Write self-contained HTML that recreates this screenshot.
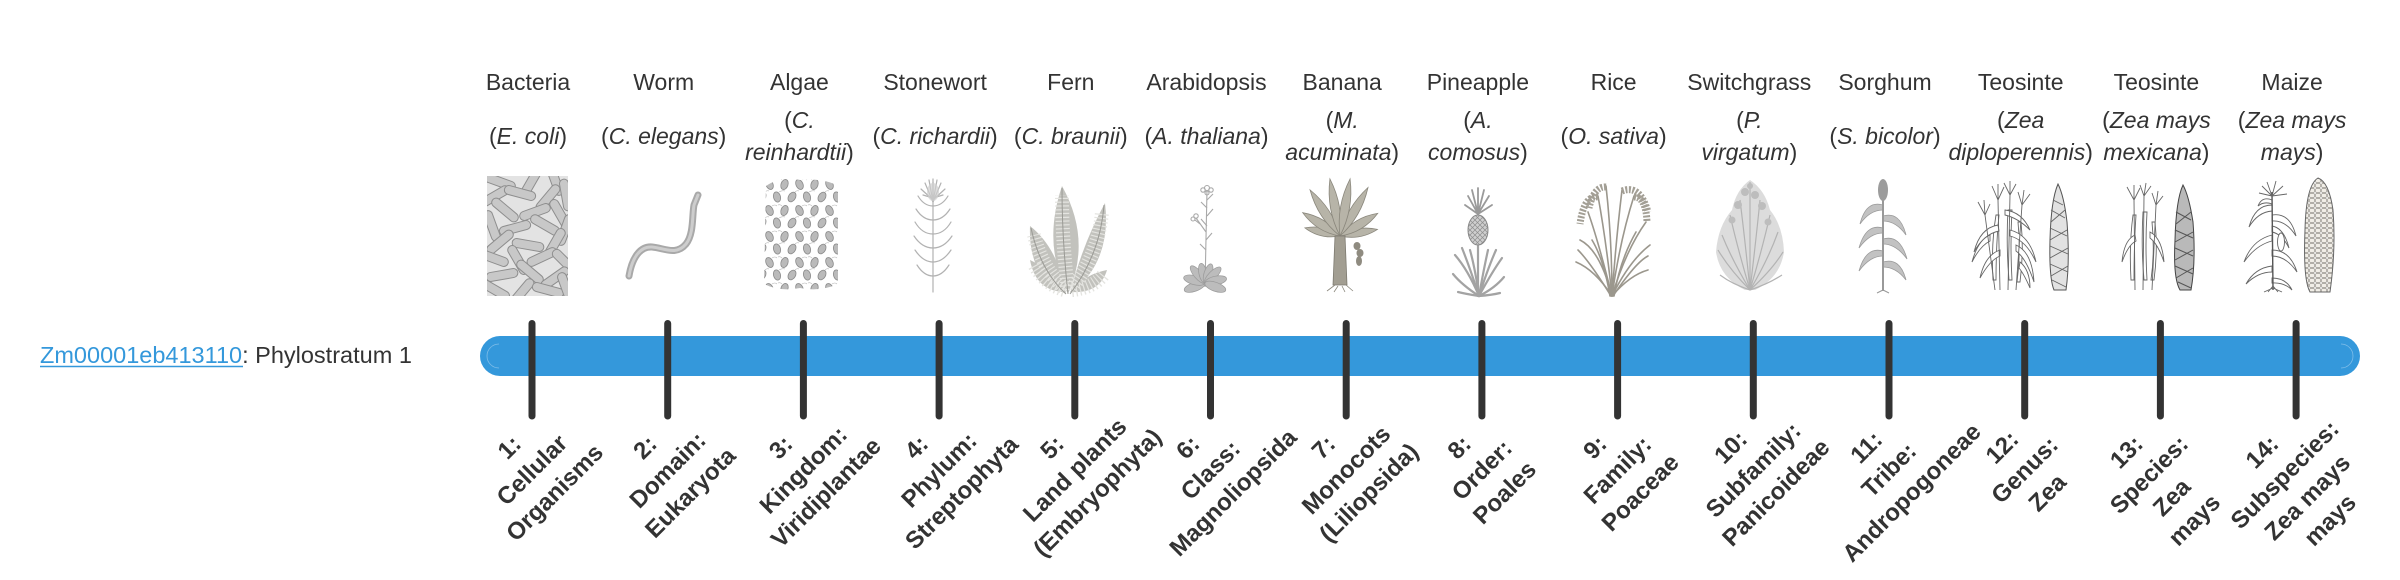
<!DOCTYPE html>
<html><head><meta charset="utf-8"><style>
body{margin:0;background:#fff;}
svg{display:block}
.h{font-family:"Liberation Sans",sans-serif;font-size:23px;fill:#333;text-anchor:middle}
.l{font-family:"Liberation Sans",sans-serif;font-size:24px;font-weight:bold;fill:#333;text-anchor:middle}
.i{font-style:italic}
</style></head><body>
<svg width="2400" height="580" viewBox="0 0 2400 580" xmlns="http://www.w3.org/2000/svg">
<defs>
<rect id="rod" x="-16" y="-4.5" width="32" height="9" rx="4.5"/>
<clipPath id="cb"><rect x="487" y="176" width="81" height="120"/></clipPath>
<pattern id="pa" x="762" y="178" width="30" height="26" patternUnits="userSpaceOnUse">
<g fill="#bababa" stroke="#8a8a8a" stroke-width="0.8">
<ellipse cx="7.5" cy="6.5" rx="3.5" ry="5.2" transform="rotate(-25 7.5 6.5)"/>
<ellipse cx="22.5" cy="6.5" rx="3.5" ry="5.2" transform="rotate(20 22.5 6.5)"/>
<ellipse cx="0" cy="19" rx="3.5" ry="5.2" transform="rotate(30 0 19)"/>
<ellipse cx="15" cy="19" rx="3.5" ry="5.2" transform="rotate(-15 15 19)"/>
<ellipse cx="30" cy="19" rx="3.5" ry="5.2" transform="rotate(30 30 19)"/>
</g>
<g stroke="#b5b5b5" stroke-width="0.6" fill="none">
<path d="M10 2 q3 -2 5 0"/><path d="M20 2 q-2 -2 -4 -1"/><path d="M17 14 q3 -2 6 -1"/><path d="M3 14 q2 -2 4 -1"/>
</g>
</pattern>
<pattern id="kern" x="2303" y="178" width="6" height="5" patternUnits="userSpaceOnUse">
<rect x="0.5" y="0.5" width="5" height="4" rx="1.2" fill="#f1eee7" stroke="#9a968e" stroke-width="0.7"/>
</pattern>
<pattern id="ph" x="0" y="0" width="5" height="5" patternUnits="userSpaceOnUse">
<rect width="5" height="5" fill="#cfcfcf"/>
<path d="M0 0 L5 5 M5 0 L0 5" stroke="#8e8e8e" stroke-width="0.7"/>
</pattern>
</defs>

<!-- left label -->
<text x="40" y="363" font-family="Liberation Sans, sans-serif" font-size="23.5" fill="#333"><tspan fill="#3498db">Zm00001eb413110</tspan>: Phylostratum 1</text>
<line x1="40" y1="366.5" x2="243" y2="366.5" stroke="#3498db" stroke-width="1.5"/>

<!-- headers -->
<g class="h">
<text x="528" y="90">Bacteria</text>
<text x="663.7" y="90">Worm</text>
<text x="799.4" y="90">Algae</text>
<text x="935.1" y="90">Stonewort</text>
<text x="1070.8" y="90">Fern</text>
<text x="1206.5" y="90">Arabidopsis</text>
<text x="1342.2" y="90">Banana</text>
<text x="1477.9" y="90">Pineapple</text>
<text x="1613.6" y="90">Rice</text>
<text x="1749.3" y="90">Switchgrass</text>
<text x="1885" y="90">Sorghum</text>
<text x="2020.7" y="90">Teosinte</text>
<text x="2156.4" y="90">Teosinte</text>
<text x="2292.1" y="90">Maize</text>
</g>

<!-- species -->
<g class="h">
<text x="528" y="144">(<tspan class="i">E. coli</tspan>)</text>
<text x="663.7" y="144">(<tspan class="i">C. elegans</tspan>)</text>
<text x="799.4" y="128">(<tspan class="i">C.</tspan></text>
<text x="799.4" y="160"><tspan class="i">reinhardtii</tspan>)</text>
<text x="935.1" y="144">(<tspan class="i">C. richardii</tspan>)</text>
<text x="1070.8" y="144">(<tspan class="i">C. braunii</tspan>)</text>
<text x="1206.5" y="144">(<tspan class="i">A. thaliana</tspan>)</text>
<text x="1342.2" y="128">(<tspan class="i">M.</tspan></text>
<text x="1342.2" y="160"><tspan class="i">acuminata</tspan>)</text>
<text x="1477.9" y="128">(<tspan class="i">A.</tspan></text>
<text x="1477.9" y="160"><tspan class="i">comosus</tspan>)</text>
<text x="1613.6" y="144">(<tspan class="i">O. sativa</tspan>)</text>
<text x="1749.3" y="128">(<tspan class="i">P.</tspan></text>
<text x="1749.3" y="160"><tspan class="i">virgatum</tspan>)</text>
<text x="1885" y="144">(<tspan class="i">S. bicolor</tspan>)</text>
<text x="2020.7" y="128">(<tspan class="i">Zea</tspan></text>
<text x="2020.7" y="160"><tspan class="i">diploperennis</tspan>)</text>
<text x="2156.4" y="128">(<tspan class="i">Zea mays</tspan></text>
<text x="2156.4" y="160"><tspan class="i">mexicana</tspan>)</text>
<text x="2292.1" y="128">(<tspan class="i">Zea mays</tspan></text>
<text x="2292.1" y="160"><tspan class="i">mays</tspan>)</text>
</g>

<!-- Bacteria -->
<g clip-path="url(#cb)">
<rect x="487" y="176" width="81" height="120" fill="#e3e3e3"/>
<g fill="#c8c8c8" stroke="#8e8e8e" stroke-width="1">
<use href="#rod" transform="translate(500 182) rotate(20)"/>
<use href="#rod" transform="translate(530 184) rotate(-60)"/>
<use href="#rod" transform="translate(555 180) rotate(70)"/>
<use href="#rod" transform="translate(495 196) rotate(-30)"/>
<use href="#rod" transform="translate(520 193) rotate(15)"/>
<use href="#rod" transform="translate(548 198) rotate(-50)"/>
<use href="#rod" transform="translate(566 195) rotate(80)"/>
<use href="#rod" transform="translate(505 210) rotate(40)"/>
<use href="#rod" transform="translate(535 212) rotate(-20)"/>
<use href="#rod" transform="translate(560 214) rotate(60)"/>
<use href="#rod" transform="translate(492 226) rotate(70)"/>
<use href="#rod" transform="translate(515 228) rotate(-15)"/>
<use href="#rod" transform="translate(545 225) rotate(30)"/>
<use href="#rod" transform="translate(565 230) rotate(-70)"/>
<use href="#rod" transform="translate(500 242) rotate(-40)"/>
<use href="#rod" transform="translate(528 245) rotate(10)"/>
<use href="#rod" transform="translate(555 243) rotate(-60)"/>
<use href="#rod" transform="translate(493 258) rotate(20)"/>
<use href="#rod" transform="translate(518 260) rotate(60)"/>
<use href="#rod" transform="translate(542 257) rotate(-25)"/>
<use href="#rod" transform="translate(565 262) rotate(45)"/>
<use href="#rod" transform="translate(502 275) rotate(-10)"/>
<use href="#rod" transform="translate(530 272) rotate(40)"/>
<use href="#rod" transform="translate(555 278) rotate(-35)"/>
<use href="#rod" transform="translate(495 290) rotate(30)"/>
<use href="#rod" transform="translate(522 292) rotate(-50)"/>
<use href="#rod" transform="translate(548 290) rotate(15)"/>
<use href="#rod" transform="translate(566 288) rotate(70)"/>
</g>
</g>

<!-- Worm -->
<path d="M629 276 C632 258 640 246 652 247 C664 248 676 256 686 244 C694 234 692 215 694 205 L698 195" fill="none" stroke="#a9a9a9" stroke-width="7" stroke-linecap="round"/>
<path d="M629 276 C632 258 640 246 652 247 C664 248 676 256 686 244 C694 234 692 215 694 205 L698 195" fill="none" stroke="#cdcdcd" stroke-width="3" stroke-linecap="round"/>

<!-- Algae -->
<path d="M766 186 Q780 176 800 180 Q825 178 838 186 L838 284 Q820 292 800 288 Q780 292 764 284 Z" fill="url(#pa)"/>

<!-- Stonewort -->
<g stroke="#b2b2b2" stroke-width="1.2" fill="none" stroke-linecap="round">
<path d="M933 182 L933 292"/>
<path d="M933 206 q-9 0 -15 -10 M933 206 q9 0 15 -10"/>
<path d="M933 220 q-10 0 -17 -11 M933 220 q10 0 17 -11"/>
<path d="M933 234 q-11 0 -18 -12 M933 234 q11 0 18 -12"/>
<path d="M933 248 q-11 0 -19 -12 M933 248 q11 0 19 -12"/>
<path d="M933 262 q-10 0 -18 -12 M933 262 q10 0 18 -12"/>
<path d="M933 276 q-9 0 -16 -11 M933 276 q9 0 16 -11"/>
<path d="M933 202 L925 183 M933 202 L929 180 M933 202 L933 179 M933 202 L937 180 M933 202 L941 183 M933 200 L921 189 M933 200 L945 189 M933 198 L923 195 M933 198 L943 195"/>
</g>
<ellipse cx="933" cy="192" rx="6" ry="9" fill="#cfcfcf" opacity="0.7"/>

<!-- Fern -->
<g fill="#c2c2bd">
<path d="M1068 294 Q1042 245 1062 186 Q1092 240 1068 294Z"/>
<path d="M1066 294 Q1028 278 1030 226 Q1058 248 1066 294Z"/>
<path d="M1070 294 Q1112 262 1105 203 Q1082 245 1070 294Z"/>
<path d="M1066 292 Q1036 292 1030 260 Q1052 270 1066 292Z"/>
<path d="M1070 292 Q1100 294 1107 270 Q1085 274 1070 292Z"/>
</g>
<g stroke="#e4e4e0" stroke-width="14" fill="none" stroke-dasharray="1.2 2.6">
<path d="M1068 290 Q1062 240 1062 195"/>
<path d="M1064 288 Q1042 268 1034 235"/>
<path d="M1072 288 Q1098 255 1102 212"/>
<path d="M1064 290 Q1044 284 1034 264"/>
<path d="M1072 290 Q1094 288 1104 274"/>
</g>
<g stroke="#9a9a95" stroke-width="1" fill="none">
<path d="M1068 294 Q1062 240 1062 188"/>
<path d="M1066 294 Q1040 270 1031 228"/>
<path d="M1070 294 Q1100 255 1104 205"/>
</g>

<!-- Arabidopsis -->
<g stroke="#a9a9a9" stroke-width="1.1" fill="none">
<path d="M1205 287 L1207 190"/>
<path d="M1206 232 L1196 218"/>
<path d="M1207 200 l6 -6 M1207 208 l-6 -6 M1207 216 l6 -7 M1207 226 l-6 -7 M1206 240 l6 -7 M1206 250 l-6 -6 M1200 224 l-5 -4"/>
<circle cx="1207" cy="188" r="2.5"/><circle cx="1203" cy="190" r="2.2"/><circle cx="1211" cy="190" r="2.2"/><circle cx="1207" cy="193" r="2"/>
<circle cx="1196" cy="216" r="2.2"/><circle cx="1193" cy="219" r="2"/>
</g>
<g fill="#bcbcbc" stroke="#9a9a9a" stroke-width="0.7">
<ellipse cx="0" cy="-11" rx="4.5" ry="11" transform="translate(1205 283) rotate(-110)"/>
<ellipse cx="0" cy="-11" rx="4.5" ry="11" transform="translate(1205 283) rotate(-75)"/>
<ellipse cx="0" cy="-11" rx="4" ry="11" transform="translate(1205 283) rotate(-40)"/>
<ellipse cx="0" cy="-10" rx="4" ry="10" transform="translate(1205 283) rotate(-12)"/>
<ellipse cx="0" cy="-10" rx="4" ry="10" transform="translate(1205 283) rotate(18)"/>
<ellipse cx="0" cy="-11" rx="4" ry="11" transform="translate(1205 283) rotate(45)"/>
<ellipse cx="0" cy="-11" rx="4.5" ry="11" transform="translate(1205 283) rotate(78)"/>
<ellipse cx="0" cy="-11" rx="4.5" ry="11" transform="translate(1205 283) rotate(110)"/>
</g>

<!-- Banana -->
<g fill="#b7b4a8" stroke="#8a877c" stroke-width="0.8">
<path d="M0 0 Q8 -18 0 -36 Q-8 -18 0 0Z" transform="translate(1340 236) rotate(-77)"/>
<path d="M0 0 Q8 -19 0 -38 Q-8 -19 0 0Z" transform="translate(1340 236) rotate(80)"/>
<path d="M0 0 Q9 -22 0 -44 Q-9 -22 0 0Z" transform="translate(1340 236) rotate(-58)"/>
<path d="M0 0 Q9 -22 0 -44 Q-9 -22 0 0Z" transform="translate(1340 236) rotate(59)"/>
<path d="M0 0 Q9 -27 0 -55 Q-9 -27 0 0Z" transform="translate(1340 236) rotate(-33)"/>
<path d="M0 0 Q9 -27 0 -56 Q-9 -27 0 0Z" transform="translate(1340 236) rotate(30)"/>
<path d="M0 0 Q9 -29 0 -58 Q-9 -29 0 0Z" transform="translate(1340 236) rotate(-10)"/>
<path d="M0 0 Q9 -29 0 -58 Q-9 -29 0 0Z" transform="translate(1340 236) rotate(10)"/>
</g>
<path d="M1335 236 L1345 236 L1347 285 L1333 285Z" fill="#a29e92" stroke="#7d7a70" stroke-width="0.8"/>
<g fill="#8f8b80"><ellipse cx="1357" cy="246" rx="3.5" ry="4"/><ellipse cx="1360" cy="253" rx="3.5" ry="4"/><ellipse cx="1359" cy="261" rx="3" ry="5"/></g>
<g stroke="#8a877c" stroke-width="0.8" fill="none"><path d="M1335 285 l-8 6 M1338 286 l-4 6 M1342 286 l3 6 M1346 285 l7 6"/></g>

<!-- Pineapple -->
<g stroke="#a3a3a3" stroke-width="2.2" fill="none" stroke-linecap="round">
<path d="M1479 296 Q1468 270 1455 255"/><path d="M1479 296 Q1470 268 1462 248"/><path d="M1479 296 Q1475 268 1470 250"/>
<path d="M1479 296 Q1484 268 1488 250"/><path d="M1479 296 Q1488 268 1496 250"/><path d="M1479 296 Q1492 272 1502 258"/>
<path d="M1479 296 Q1462 285 1453 274"/><path d="M1479 296 Q1495 288 1504 277"/><path d="M1479 296 Q1466 294 1458 292"/><path d="M1479 296 Q1492 295 1500 293"/>
<path d="M1478 246 L1478 296"/>
</g>
<g stroke="#9a9a9a" stroke-width="1.8" fill="none" stroke-linecap="round">
<path d="M1478 214 L1468 196 M1478 214 L1472 190 M1478 214 L1478 188 M1478 214 L1484 190 M1478 214 L1489 196 M1478 214 L1465 205 M1478 214 L1492 205"/>
</g>
<ellipse cx="1478" cy="230" rx="10" ry="15" fill="url(#ph)" stroke="#888" stroke-width="1"/>

<!-- Rice -->
<g stroke="#9b978d" stroke-width="1.6" fill="none" stroke-linecap="round">
<path d="M1612 296 Q1600 250 1580 240"/><path d="M1612 296 Q1598 240 1588 212"/><path d="M1612 296 Q1606 240 1598 196"/>
<path d="M1612 296 Q1612 240 1606 186"/><path d="M1612 296 Q1616 240 1622 190"/><path d="M1612 296 Q1620 240 1634 196"/>
<path d="M1612 296 Q1626 250 1646 222"/><path d="M1612 296 Q1630 260 1650 245"/><path d="M1612 296 Q1595 270 1576 262"/>
<path d="M1612 296 Q1630 275 1648 270"/><path d="M1610 296 Q1604 260 1592 240"/><path d="M1614 296 Q1620 260 1636 232"/>
<path d="M1611 296 Q1590 262 1578 250"/><path d="M1613 296 Q1636 262 1648 256"/>
</g>
<g stroke="#a39f95" stroke-width="7" fill="none" stroke-dasharray="2 1.5">
<path d="M1598 197 Q1584 195 1580 224"/><path d="M1606 187 Q1594 186 1589 208"/>
<path d="M1622 191 Q1640 184 1648 212"/><path d="M1634 197 Q1646 197 1647 222"/>
</g>

<!-- Switchgrass -->
<path d="M1745 290 Q1720 278 1716 252 Q1718 226 1732 210 Q1736 190 1750 180 Q1765 190 1770 210 Q1783 226 1784 252 Q1780 278 1755 290Z" fill="#dcdcdc"/>
<g stroke="#b3b3b3" stroke-width="1.2" fill="none">
<path d="M1750 290 Q1730 270 1718 250"/><path d="M1750 290 Q1732 260 1722 235"/><path d="M1750 290 Q1738 250 1730 215"/>
<path d="M1750 290 Q1745 240 1740 200"/><path d="M1750 290 Q1750 230 1750 182"/><path d="M1750 290 Q1756 240 1760 200"/>
<path d="M1750 290 Q1762 250 1770 215"/><path d="M1750 290 Q1768 260 1778 232"/><path d="M1750 290 Q1772 270 1783 252"/>
<path d="M1750 290 Q1732 284 1720 275"/><path d="M1750 290 Q1768 284 1782 275"/>
</g>
<g fill="#bdbdbd"><circle cx="1745" cy="192" r="4"/><circle cx="1755" cy="195" r="4"/><circle cx="1750" cy="186" r="3"/><circle cx="1738" cy="205" r="4"/><circle cx="1762" cy="206" r="4"/><circle cx="1732" cy="220" r="3.5"/><circle cx="1768" cy="222" r="3.5"/></g>

<!-- Sorghum -->
<g fill="#c2c2c2" stroke="#9a9a9a" stroke-width="0.8">
<path d="M1883 205 Q1866 200 1860 224 Q1870 210 1883 210Z"/>
<path d="M1883 216 Q1900 211 1906 235 Q1896 221 1883 221Z"/>
<path d="M1883 228 Q1866 223 1859 248 Q1870 233 1883 233Z"/>
<path d="M1883 239 Q1900 234 1907 259 Q1896 244 1883 244Z"/>
<path d="M1883 251 Q1866 246 1859 271 Q1870 256 1883 256Z"/>
<path d="M1883 262 Q1900 257 1906 280 Q1896 267 1883 267Z"/>
</g>
<path d="M1883 198 L1883 291" stroke="#999" stroke-width="2"/>
<ellipse cx="1883" cy="190" rx="5" ry="11" fill="#9c9c9c"/>
<path d="M1883 290 l-6 3 M1883 290 l6 3" stroke="#999" stroke-width="1"/>

<!-- Teosinte 1 -->
<g stroke="#666" stroke-width="0.9" fill="#fff">
<path d="M1996 215 q-5 30 -3 65 l3 0 q0 -35 3 -65z"/>
<path d="M2008 210 q-2 35 1 70 l3 0 q-2 -35 0 -70z"/>
<path d="M2018 222 q3 30 -1 60 l3 0 q4 -30 1 -60z"/>
<path d="M1998 225 Q1980 228 1974 252 Q1984 234 1999 231z"/>
<path d="M2010 230 Q2030 235 2036 262 Q2026 240 2010 236z"/>
<path d="M2000 250 Q1985 255 1980 278 Q1990 260 2000 256z"/>
<path d="M2016 245 Q2032 252 2034 282 Q2026 258 2016 251z"/>
<path d="M2005 210 Q2022 212 2030 230 Q2018 218 2005 215z"/>
<path d="M1990 235 Q1978 240 1972 262 Q1980 246 1990 241z"/>
<path d="M2020 262 Q2030 270 2030 288 Q2024 274 2019 268z"/>
</g>
<g stroke="#666" stroke-width="0.9" fill="none">
<path d="M2000 290 L1998 200 M2008 290 L2010 195 M2016 290 L2022 205 M1995 290 L1985 215"/>
<path d="M1998 200 L1992 186 M1998 200 L1998 184 M1998 200 L2004 187 M2010 195 L2004 183 M2010 195 L2010 181 M2010 195 L2016 184 M2022 205 L2018 192 M2022 205 L2024 190 M2022 205 L2030 194 M1985 215 L1978 202 M1985 215 L1984 200 M1985 215 L1990 204"/>
</g>
<path d="M2058 184 Q2051 200 2050 240 Q2049 278 2054 290 L2066 290 Q2070 262 2067 222 Q2064 196 2058 184Z" fill="#e2e2e2" stroke="#555" stroke-width="1"/>
<g stroke="#666" stroke-width="0.9" fill="none">
<path d="M2051 210 L2065 218 M2050 228 L2067 236 M2050 246 L2068 254 M2050 264 L2068 272 M2052 280 L2066 287 M2053 200 L2063 205"/>
<path d="M2065 210 L2051 222 M2067 230 L2050 240 M2068 248 L2050 258 M2068 266 L2051 276"/>
</g>

<!-- Teosinte 2 -->
<g stroke="#666" stroke-width="0.9" fill="#fff">
<path d="M2133 215 q-4 30 -2 65 l3 0 q0 -35 2 -65z"/>
<path d="M2143 212 q-2 35 1 68 l3 0 q-2 -35 0 -68z"/>
<path d="M2152 222 q3 30 -1 58 l3 0 q4 -30 1 -58z"/>
<path d="M2135 235 Q2124 240 2122 262 Q2128 245 2136 241z"/>
<path d="M2150 232 Q2162 238 2164 262 Q2158 244 2150 238z"/>
</g>
<g stroke="#666" stroke-width="0.9" fill="none">
<path d="M2135 290 L2134 200 M2143 290 L2144 196 M2152 290 L2156 205"/>
<path d="M2134 200 L2127 187 M2134 200 L2134 185 M2134 200 L2140 188 M2144 196 L2140 185 M2144 196 L2146 183 M2144 196 L2151 186 M2156 205 L2152 193 M2156 205 L2158 191 M2156 205 L2163 196"/>
</g>
<path d="M2183 185 Q2176 200 2175 240 Q2173 278 2180 290 L2191 290 Q2196 262 2193 222 Q2189 196 2183 185Z" fill="#b9b9b9" stroke="#444" stroke-width="1"/>
<g stroke="#555" stroke-width="1" fill="none">
<path d="M2176 212 L2191 220 M2175 230 L2193 238 M2175 248 L2193 256 M2175 266 L2193 274 M2178 282 L2191 288"/>
<path d="M2191 212 L2176 224 M2193 232 L2175 242 M2193 250 L2175 260 M2193 268 L2176 278"/>
</g>

<!-- Maize -->
<g stroke="#666" stroke-width="0.9" fill="#fff">
<path d="M2272 205 Q2255 205 2249 227 Q2258 212 2272 211z"/>
<path d="M2272 215 Q2290 212 2296 236 Q2286 220 2272 221z"/>
<path d="M2272 235 Q2252 240 2244 262 Q2256 245 2272 241z"/>
<path d="M2272 250 Q2290 250 2297 272 Q2286 256 2272 256z"/>
<path d="M2272 266 Q2255 268 2246 284 Q2258 272 2272 272z"/>
<path d="M2272 226 Q2284 228 2289 248 Q2282 234 2272 232z"/>
<path d="M2272 200 Q2262 196 2258 206 Q2264 201 2272 204z"/>
<path d="M2272 278 Q2286 278 2292 290 Q2284 282 2272 283z"/>
<ellipse cx="2281" cy="242" rx="3.5" ry="9"/>
</g>
<g stroke="#555" stroke-width="1.4" fill="none">
<path d="M2272 192 L2273 290"/>
</g>
<g stroke="#666" stroke-width="0.9" fill="none">
<path d="M2272 196 L2262 186 M2272 196 L2267 182 M2272 196 L2276 181 M2272 196 L2283 186 M2272 196 L2259 193 M2272 196 L2287 194"/>
<path d="M2273 288 l-9 4 M2273 288 l9 4 M2273 286 l-5 6 M2273 286 l5 6"/>
</g>
<path d="M2318 178 Q2306 185 2305 230 Q2303 280 2310 292 L2330 292 Q2336 250 2333 210 Q2329 182 2318 178Z" fill="url(#kern)" stroke="#666" stroke-width="1"/>

<!-- bar -->
<rect x="480" y="336" width="1880" height="40" rx="20" fill="#3498db"/>
<path d="M499 344 A12 12 0 0 0 499 368" fill="none" stroke="#7fbde8" stroke-width="0.8"/>
<path d="M2341 344 A12 12 0 0 1 2341 368" fill="none" stroke="#7fbde8" stroke-width="0.8"/>

<!-- ticks -->
<g stroke="#333" stroke-width="7" stroke-linecap="round">
<line x1="532" y1="323.5" x2="532" y2="416"/>
<line x1="667.7" y1="323.5" x2="667.7" y2="416"/>
<line x1="803.4" y1="323.5" x2="803.4" y2="416"/>
<line x1="939.1" y1="323.5" x2="939.1" y2="416"/>
<line x1="1074.8" y1="323.5" x2="1074.8" y2="416"/>
<line x1="1210.5" y1="323.5" x2="1210.5" y2="416"/>
<line x1="1346.2" y1="323.5" x2="1346.2" y2="416"/>
<line x1="1481.9" y1="323.5" x2="1481.9" y2="416"/>
<line x1="1617.6" y1="323.5" x2="1617.6" y2="416"/>
<line x1="1753.3" y1="323.5" x2="1753.3" y2="416"/>
<line x1="1889" y1="323.5" x2="1889" y2="416"/>
<line x1="2024.7" y1="323.5" x2="2024.7" y2="416"/>
<line x1="2160.4" y1="323.5" x2="2160.4" y2="416"/>
<line x1="2296.1" y1="323.5" x2="2296.1" y2="416"/>
</g>

<!-- tick labels -->
<g class="l">
<text transform="rotate(-45 532 470)"><tspan x="532" y="446">1:</tspan><tspan x="532" y="478">Cellular</tspan><tspan x="532" y="510">Organisms</tspan></text>
<text transform="rotate(-45 667.7 470)"><tspan x="667.7" y="446">2:</tspan><tspan x="667.7" y="478">Domain:</tspan><tspan x="667.7" y="510">Eukaryota</tspan></text>
<text transform="rotate(-45 803.4 470)"><tspan x="803.4" y="446">3:</tspan><tspan x="803.4" y="478">Kingdom:</tspan><tspan x="803.4" y="510">Viridiplantae</tspan></text>
<text transform="rotate(-45 939.1 470)"><tspan x="939.1" y="446">4:</tspan><tspan x="939.1" y="478">Phylum:</tspan><tspan x="939.1" y="510">Streptophyta</tspan></text>
<text transform="rotate(-45 1074.8 470)"><tspan x="1074.8" y="446">5:</tspan><tspan x="1074.8" y="478">Land plants</tspan><tspan x="1074.8" y="510">(Embryophyta)</tspan></text>
<text transform="rotate(-45 1210.5 470)"><tspan x="1210.5" y="446">6:</tspan><tspan x="1210.5" y="478">Class:</tspan><tspan x="1210.5" y="510">Magnoliopsida</tspan></text>
<text transform="rotate(-45 1346.2 470)"><tspan x="1346.2" y="446">7:</tspan><tspan x="1346.2" y="478">Monocots</tspan><tspan x="1346.2" y="510">(Liliopsida)</tspan></text>
<text transform="rotate(-45 1481.9 470)"><tspan x="1481.9" y="446">8:</tspan><tspan x="1481.9" y="478">Order:</tspan><tspan x="1481.9" y="510">Poales</tspan></text>
<text transform="rotate(-45 1617.6 470)"><tspan x="1617.6" y="446">9:</tspan><tspan x="1617.6" y="478">Family:</tspan><tspan x="1617.6" y="510">Poaceae</tspan></text>
<text transform="rotate(-45 1753.3 470)"><tspan x="1753.3" y="446">10:</tspan><tspan x="1753.3" y="478">Subfamily:</tspan><tspan x="1753.3" y="510">Panicoideae</tspan></text>
<text transform="rotate(-45 1889 470)"><tspan x="1889" y="446">11:</tspan><tspan x="1889" y="478">Tribe:</tspan><tspan x="1889" y="510">Andropogoneae</tspan></text>
<text transform="rotate(-45 2024.7 470)"><tspan x="2024.7" y="446">12:</tspan><tspan x="2024.7" y="478">Genus:</tspan><tspan x="2024.7" y="510">Zea</tspan></text>
<text transform="rotate(-45 2160.4 486)"><tspan x="2160.4" y="446">13:</tspan><tspan x="2160.4" y="478">Species:</tspan><tspan x="2160.4" y="510">Zea</tspan><tspan x="2160.4" y="542">mays</tspan></text>
<text transform="rotate(-45 2296.1 486)"><tspan x="2296.1" y="446">14:</tspan><tspan x="2296.1" y="478">Subspecies:</tspan><tspan x="2296.1" y="510">Zea mays</tspan><tspan x="2296.1" y="542">mays</tspan></text>
</g>
</svg>
</body></html>
